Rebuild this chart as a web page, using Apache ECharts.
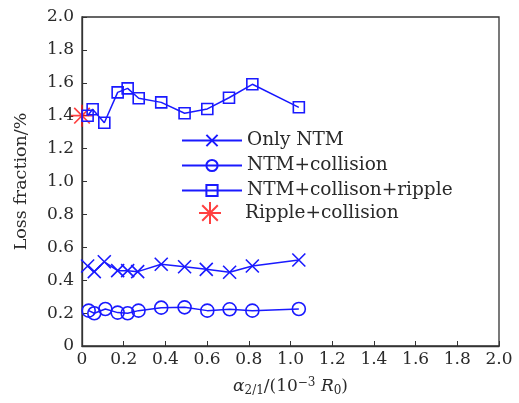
<!DOCTYPE html>
<html><head><meta charset="utf-8">
<script src="https://cdn.jsdelivr.net/npm/echarts@6/dist/echarts.min.js"></script>
<style>html,body{margin:0;padding:0;background:#fff}#c{width:519px;height:403px}</style>
</head><body><div id="c"></div>
<script>
const xTicks = [0,0.2,0.4,0.6,0.8,1.0,1.2,1.4,1.6,1.8,2.0];
const yTicks = [0,0.2,0.4,0.6,0.8,1.0,1.2,1.4,1.6,1.8,2.0];
const onlyNTM_x = [0.027,0.059,0.107,0.171,0.219,0.267,0.38,0.492,0.596,0.708,0.817,1.04];
const onlyNTM_y = [0.486,0.452,0.512,0.458,0.458,0.452,0.497,0.482,0.466,0.448,0.486,0.523];
const coll_x = [0.032,0.059,0.112,0.171,0.219,0.271,0.38,0.492,0.601,0.708,0.817,1.04];
const coll_y = [0.215,0.199,0.225,0.203,0.199,0.215,0.233,0.235,0.215,0.223,0.215,0.225];
const ripple_x = [0.027,0.051,0.107,0.171,0.219,0.272,0.38,0.492,0.601,0.705,0.817,1.04];
const ripple_y = [1.40,1.439,1.357,1.542,1.566,1.506,1.481,1.415,1.441,1.509,1.591,1.451];
const star_x = [0];
const star_y = [1.40];
const names = ['Only NTM','NTM+collision','NTM+collison+ripple','Ripple+collision'];

const pair = (xs, ys) => xs.map((x, i) => [x, ys[i]]);
const BLUE = '#1a1aff';
const RED = '#ff1010';
const FONT = 'DejaVu Serif';
const TXT = '#2a2a2a';
const fmt = v => (v === 0 ? '0' : v.toFixed(1));
const crossPath = 'path://M0,0L10,10M10,0L0,10';
const starPath = 'path://M5,0L5,10M0,5L10,5M1.46,1.46L8.54,8.54M8.54,1.46L1.46,8.54';
const hollow = {color: 'rgba(0,0,0,0)', borderColor: BLUE, borderWidth: 1.6};
const legendText = {fontFamily: FONT, fontSize: 18.5, color: TXT, lineHeight: 18};

const chart = echarts.init(document.getElementById('c'), null, {renderer: 'canvas'});
chart.setOption({
  animation: false,
  backgroundColor: '#fff',
  grid: {left: 82, right: 20, top: 17, bottom: 57, outerBoundsMode: 'none', containLabel: false,
         show: true, borderColor: '#333', borderWidth: 1.3, backgroundColor: 'transparent'},
  xAxis: {
    type: 'value', min: xTicks[0], max: xTicks[xTicks.length - 1], interval: 0.2,
    axisLine: {onZero: false, lineStyle: {color: '#333', width: 1.3}},
    axisTick: {inside: true, length: 5, lineStyle: {color: '#333'}},
    splitLine: {show: false},
    axisLabel: {formatter: fmt, fontFamily: FONT, fontSize: 17, color: TXT, margin: 5},
    name: '{i|α}{sub|2/1}/(10{sup|−3} {i|R}{sub|0})',
    nameLocation: 'middle', nameGap: 31,
    nameTextStyle: {
      fontFamily: FONT, fontSize: 17, color: TXT,
      rich: {
        i: {fontFamily: FONT, fontSize: 17, fontStyle: 'italic', color: TXT},
        sub: {fontFamily: FONT, fontSize: 12, color: TXT, padding: [8, 0, 0, 0]},
        sup: {fontFamily: FONT, fontSize: 12, color: TXT, padding: [0, 0, 8, 0]}
      }
    }
  },
  yAxis: {
    type: 'value', min: yTicks[0], max: yTicks[yTicks.length - 1], interval: 0.2,
    axisLine: {onZero: false, lineStyle: {color: '#333', width: 1.3}},
    axisTick: {inside: true, length: 5, lineStyle: {color: '#333'}},
    splitLine: {show: false},
    axisLabel: {formatter: fmt, fontFamily: FONT, fontSize: 17, color: TXT, margin: 8},
    name: 'Loss fraction/%', nameLocation: 'middle', nameGap: 52, nameRotate: 90,
    nameTextStyle: {fontFamily: FONT, fontSize: 17.5, color: TXT}
  },
  legend: [
    {orient: 'vertical', left: 176, top: 126, itemWidth: 60, itemHeight: 14, itemGap: 6,
     textStyle: legendText, data: names.slice(0, 3)},
    {orient: 'vertical', left: 193, top: 196, itemWidth: 60, itemHeight: 22, itemGap: 6,
     textStyle: legendText, data: names.slice(3)}
  ],
  series: [
    {name: names[0], type: 'line', data: pair(onlyNTM_x, onlyNTM_y), symbol: crossPath, symbolSize: 13,
     lineStyle: {color: BLUE, width: 1.5}, itemStyle: hollow},
    {name: names[1], type: 'line', data: pair(coll_x, coll_y), symbol: 'circle', symbolSize: 13,
     lineStyle: {color: BLUE, width: 1.5}, itemStyle: hollow},
    {name: names[2], type: 'line', data: pair(ripple_x, ripple_y), symbol: 'rect', symbolSize: 11,
     lineStyle: {color: BLUE, width: 1.5}, itemStyle: hollow},
    {name: names[3], type: 'scatter', data: pair(star_x, star_y), symbol: starPath, symbolSize: 22,
     itemStyle: {color: 'rgba(0,0,0,0)', borderColor: RED, borderWidth: 1.7}}
  ]
});
</script></body></html>
